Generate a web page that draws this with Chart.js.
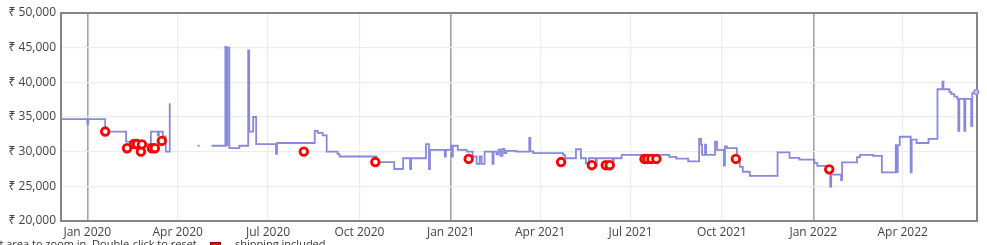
<!DOCTYPE html>
<html>
<head>
<meta charset="utf-8">
<script src="https://cdn.jsdelivr.net/npm/chart.js@4/dist/chart.umd.min.js"></script>
<style>
  html, body { margin: 0; padding: 0; width: 987px; height: 245px; overflow: hidden; background: #fff; }
  #wrap { position: relative; width: 987px; height: 245px; }
  canvas { position: absolute; left: 0; top: 0; }
  .note { position: absolute; font-family: 'Open Sans', 'Noto Sans', sans-serif; font-size: 11px; color: #333; white-space: nowrap; }
  #swatch { position: absolute; left: 210px; top: 242px; width: 9px; height: 8px; background: #ff0000; border: 1px solid #800; }
</style>
</head>
<body>
<div id="wrap">
  <canvas id="c" width="987" height="245"></canvas>
  <div class="note" style="left:-27px; top:236px;">Select area to zoom in. Double-click to reset.</div>
  <div id="swatch"></div>
  <div class="note" style="left:235px; top:236px;">shipping included</div>
</div>
<script>
// ---- data ----
const lineDates = [
  '2019-12-01','2020-01-01','2020-01-02','2020-01-19','2020-02-09','2020-02-14','2020-03-05','2020-03-12','2020-03-13','2020-03-17','2020-03-20','2020-03-24','2020-03-25',
  '2020-04-21','2020-04-23','2020-04-24',
  '2020-05-05','2020-05-19','2020-05-20','2020-05-21','2020-05-23','2020-06-02','2020-06-11','2020-06-12','2020-06-16','2020-06-19',
  '2020-07-09','2020-07-10','2020-08-17','2020-08-20','2020-08-25','2020-08-29','2020-09-09','2020-09-11','2020-10-18',
  '2020-11-05','2020-11-14','2020-11-21','2020-11-22','2020-12-07','2020-12-10','2020-12-11','2020-12-26','2020-12-27',
  '2021-01-01','2021-01-02','2021-01-03','2021-01-08','2021-01-17','2021-01-23','2021-01-27','2021-01-30','2021-02-01','2021-02-04',
  '2021-02-12','2021-02-13','2021-02-16','2021-02-18','2021-02-20','2021-02-22','2021-02-24','2021-02-26','2021-03-08','2021-03-21',
  '2021-03-22','2021-03-25','2021-04-24','2021-04-26','2021-05-07','2021-05-12','2021-05-17','2021-05-20','2021-05-27','2021-05-28',
  '2021-06-13','2021-06-14','2021-06-22','2021-07-20','2021-07-21','2021-08-09','2021-08-16','2021-08-28','2021-09-08','2021-09-10',
  '2021-09-11','2021-09-14','2021-09-15','2021-09-24','2021-09-26','2021-10-03','2021-10-04','2021-10-06','2021-10-16','2021-10-19',
  '2021-10-22','2021-10-29','2021-11-26','2021-12-08','2021-12-18','2022-01-02','2022-01-05','2022-01-18','2022-01-19','2022-01-29',
  '2022-01-30','2022-02-14','2022-02-17','2022-03-02','2022-03-11','2022-03-25','2022-03-26','2022-03-27','2022-03-29','2022-04-09',
  '2022-04-10','2022-04-15','2022-04-27','2022-05-06','2022-05-11','2022-05-12','2022-05-18','2022-05-20','2022-05-23','2022-05-26',
  '2022-05-27','2022-05-28','2022-06-02','2022-06-03','2022-06-09','2022-06-10','2022-06-14'
];
const linePrices = [
  34700,34000,34700,32900,31450,31100,32900,32300,32900,32200,30000,37000,null,
  30850,30850,null,
  30850,45100,30900,45000,30500,30850,44600,32900,35000,31100,
  29700,31250,33000,32700,32350,30000,29650,29300,28500,
  27500,29050,27500,29050,31100,27500,30250,29300,30250,
  30850,29300,30850,30250,30000,29300,28250,29300,28250,30000,
  28250,30000,29600,30300,29400,30400,29800,30100,30000,32000,
  30050,29800,29550,29050,30350,29050,28330,29050,28000,29050,
  28000,29050,29550,29300,29550,29250,29000,28600,31850,31000,
  29550,31000,29550,31450,30250,28000,30750,30500,28700,27800,
  27100,26500,29900,29100,28850,28350,27950,24950,26700,25900,
  28450,29200,29550,29400,27000,30950,27050,30950,32150,27000,
  31750,31250,31850,39000,40100,39000,38600,38300,37950,37600,
  33000,37600,33000,37600,33700,38450,38600
];
const dotDates = [
  '2020-01-19','2020-02-10','2020-02-17','2020-02-20','2020-02-24','2020-02-25','2020-03-06','2020-03-09','2020-03-16',
  '2020-08-06','2020-10-17','2021-01-19','2021-04-22','2021-05-23','2021-06-06','2021-06-10',
  '2021-07-15','2021-07-18','2021-07-22','2021-07-27','2021-10-15','2022-01-17'
];
const dotPrices = [
  32900,30500,31100,31100,30000,31050,30500,30500,31550,
  30000,28500,28950,28500,28050,28050,28050,
  28950,28950,28950,28950,28950,27450
];
const tickDates = ['2020-01-01','2020-04-01','2020-07-01','2020-10-01','2021-01-01','2021-04-01','2021-07-01','2021-10-01','2022-01-01','2022-04-01'];
const tickLabels = ['Jan 2020','Apr 2020','Jul 2020','Oct 2020','Jan 2021','Apr 2021','Jul 2021','Oct 2021','Jan 2022','Apr 2022'];
const yMin = 20000, yMax = 50000, yStep = 5000;
const xStartDate = '2019-12-05', xEndDate = '2022-06-15';

// ---- helpers ----
function day(s) {
  const p = s.split('-').map(Number);
  return (Date.UTC(p[0], p[1] - 1, p[2]) - Date.UTC(2020, 0, 1)) / 864e5;
}
const linePts = lineDates.map((d, i) => ({ x: day(d), y: linePrices[i] }));
const dotPts = dotDates.map((d, i) => ({ x: day(d), y: dotPrices[i] }));
const janTicks = new Set(tickDates.filter(d => d.slice(5, 7) === '01').map(day));
const lastIdx = linePts.length - 1;
const FONT = "'Open Sans', 'Noto Sans', 'DejaVu Sans', sans-serif";

const framePlugin = {
  id: 'frame',
  beforeDatasetsDraw(chart) {
    const { ctx, chartArea: a } = chart;
    ctx.save();
    ctx.strokeStyle = '#858585';
    ctx.lineWidth = 2;
    ctx.strokeRect(a.left, a.top, a.right - a.left, a.bottom - a.top);
    ctx.restore();
  }
};

new Chart(document.getElementById('c'), {
  type: 'line',
  data: {
    datasets: [
      {
        type: 'line',
        data: dotPts,
        showLine: false,
        order: 0,
        pointRadius: 3.8,
        pointBorderWidth: 2.8,
        pointBorderColor: '#ff0000',
        pointBackgroundColor: '#ffffff',
        clip: 6
      },
      {
        type: 'line',
        data: linePts,
        order: 1,
        stepped: true,
        spanGaps: false,
        borderColor: '#8888dd',
        borderWidth: 1.8,
        fill: false,
        pointRadius: ctx => ctx.dataIndex === lastIdx ? 2.5 : 0,
        pointBackgroundColor: '#c4c4f0',
        pointBorderColor: '#8888dd',
        pointBorderWidth: 1.2,
        clip: { left: 0, top: 4, right: 6, bottom: 4 }
      }
    ]
  },
  options: {
    responsive: false,
    animation: false,
    events: [],
    layout: { padding: { top: 13, right: 10, left: 0, bottom: 0 } },
    plugins: { legend: { display: false }, tooltip: { enabled: false } },
    scales: {
      x: {
        type: 'linear',
        min: day(xStartDate) + 0.5,
        max: day(xEndDate) - 0.2,
        afterBuildTicks: axis => { axis.ticks = tickDates.map(d => ({ value: day(d) })); },
        afterFit: scale => { scale.height = 24; },
        ticks: {
          autoSkip: false,
          maxRotation: 0,
          padding: 4,
          color: '#444',
          font: { family: FONT, size: 12 },
          callback: (v, i) => tickLabels[i]
        },
        grid: {
          drawTicks: false,
          color: ctx => (ctx.tick && janTicks.has(ctx.tick.value)) ? '#a3a3a3' : '#ececec',
          lineWidth: ctx => (ctx.tick && janTicks.has(ctx.tick.value)) ? 1.6 : 1.2
        },
        border: { color: '#858585', width: 2 }
      },
      y: {
        min: yMin,
        max: yMax,
        afterFit: scale => { scale.width = 61; },
        ticks: {
          stepSize: yStep,
          padding: 5,
          color: '#444',
          font: { family: FONT, size: 12 },
          callback: v => '₹ ' + v.toLocaleString('en-US')
        },
        grid: { drawTicks: false, color: '#ececec', lineWidth: 1.2 },
        border: { color: '#858585', width: 2 }
      }
    }
  },
  plugins: [framePlugin]
});
</script>
</body>
</html>
